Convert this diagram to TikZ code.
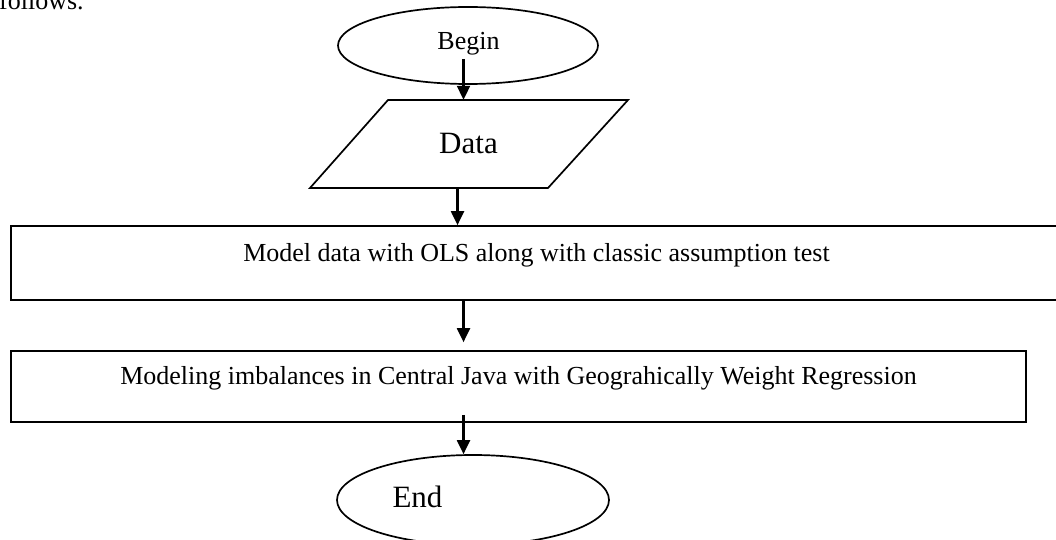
\documentclass[tikz,border=0pt]{standalone}
\usepackage{fontspec}
\setmainfont{Liberation Serif}
\usetikzlibrary{shapes.geometric,arrows.meta,calc}
\tikzset{
  shp/.style={draw=black,line width=1.7pt},
  txt/.style={inner sep=0pt,font=\fontsize{26}{30}\selectfont},
  bigtxt/.style={inner sep=0pt,font=\fontsize{31}{36}\selectfont},
  arr/.style={line width=2.1pt,-{Triangle[width=13pt,length=14pt]}},
}
\begin{document}
\begin{tikzpicture}[x=1pt,y=-1pt]
\useasboundingbox (0,0) rectangle (1056,540);
\coordinate (axis) at (463.5,0);
% intro text (cut off)
\node[txt,anchor=base west] (intro) at (-1,9.5) {follows.};
% Begin
\node[shp,ellipse,minimum width=260pt,minimum height=77pt] (begin) at (468,45.5) {};
\node[txt] (begint) at (468.5,44) {Begin};
% Data parallelogram
\draw[shp] (310,188) -- (388,100) -- (628,100) -- (548,188) -- cycle;
\node[bigtxt,minimum height=88pt] (data) at (468.5,144) {Data};
% process boxes
\node[shp,rectangle,minimum width=1051pt,minimum height=74pt,inner sep=0pt] (m1) at (536.5,263) {};
\node[txt] (m1t) at (536.5,255) {Model data with OLS along with classic assumption test};
\node[shp,rectangle,minimum width=1015pt,minimum height=71pt,inner sep=0pt] (m2) at (518.5,386.5) {};
\node[txt] (m2t) at (518.5,378) {Modeling imbalances in Central Java with Geograhically Weight Regression};
% End
\node[shp,ellipse,minimum width=272pt,minimum height=90pt] (end) at (473,500) {};
\node[bigtxt] (endt) at (417.5,497) {End};
% connectors
\draw[arr] ($(begin.center -| axis)+(0,14)$) -- (axis |- data.north);
\draw[arr] ($(data.south)+(-11,0)$) -- ($(data.south |- m1.north)+(-11,0)$);
\draw[arr] (m1.south -| axis) -- ($(m2.north -| axis)+(0,-8)$);
\draw[arr] ($(m2.south -| axis)+(0,-8)$) -- (axis |- end.north);
\end{tikzpicture}
\end{document}
